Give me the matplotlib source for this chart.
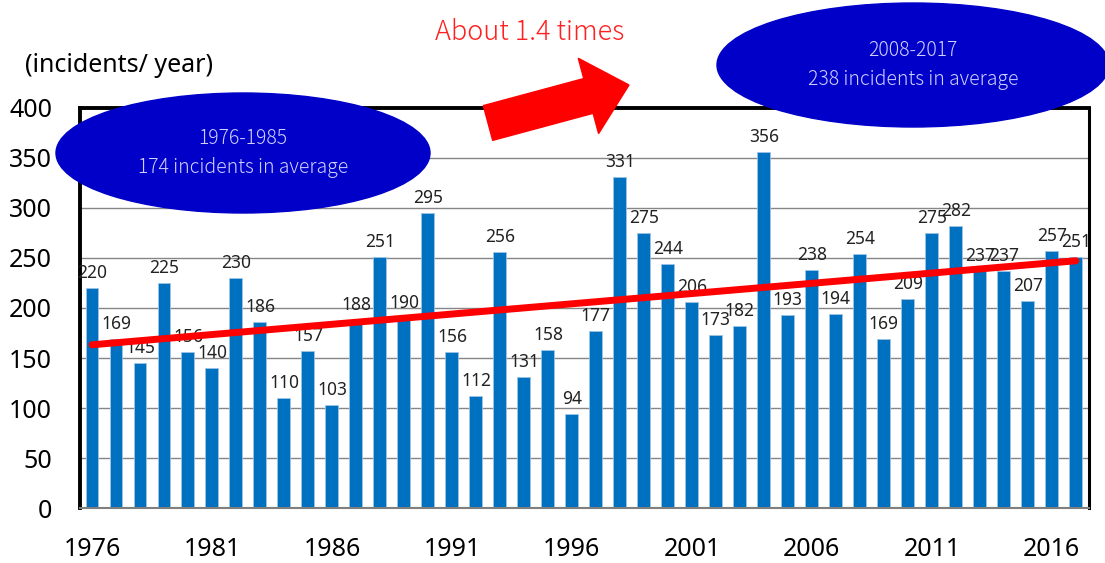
import numpy as np
import matplotlib
matplotlib.use('Agg')
import matplotlib.pyplot as plt
from matplotlib.patches import Ellipse, FancyArrow
from matplotlib.transforms import IdentityTransform

# incidents per year, 1976-2017
years = list(range(1976, 2018))
incidents = [220, 169, 145, 225, 156, 140, 230, 186, 110, 157,
             103, 188, 251, 190, 295, 156, 112, 256, 131, 158,
             94, 177, 331, 275, 244, 206, 173, 182, 356, 193,
             238, 194, 254, 169, 209, 275, 282, 237, 237, 207,
             257, 251]
tick_years = [1976, 1981, 1986, 1991, 1996, 2001, 2006, 2011, 2016]
early_text = "1976-1985\n174 incidents in average"
late_text = "2008-2017\n238 incidents in average"

W, H = 1105, 563
fig = plt.figure(figsize=(W / 100, H / 100), dpi=100)
ax = fig.add_axes([80 / W, (H - 508) / H, (1089 - 80) / W, (508 - 108) / H])

x = np.arange(len(years))
ax.bar(x, incidents, width=0.54, color='#0070C0', edgecolor='#9DC3E6',
       linewidth=0.6, zorder=2)

# value labels above bars
for xi, v in zip(x, incidents):
    ax.annotate(str(v), (xi, v), xytext=(0, 4), textcoords='offset points',
                ha='center', va='bottom', fontsize=12.5, family='Noto Sans',
                color='#222222', zorder=3)

# linear trend
coef = np.polyfit(x, incidents, 1)
ax.plot([x[0], x[-1]], np.polyval(coef, [x[0], x[-1]]), color='#FF0000',
        lw=5, solid_capstyle='round', zorder=4)

ax.set_xlim(-0.5, len(years) - 0.45)
ax.set_ylim(0, 400)
ax.set_yticks(range(0, 401, 50))
ax.yaxis.grid(True, color='#868686', lw=1)
ax.set_axisbelow(True)
ax.set_xticks([years.index(y) for y in tick_years])
ax.set_xticklabels([str(y) for y in tick_years])
ax.tick_params(axis='both', length=0, labelsize=18)
ax.tick_params(axis='y', pad=20)
ax.tick_params(axis='x', pad=21)
for lab in ax.get_xticklabels() + ax.get_yticklabels():
    lab.set_family('Noto Sans')

for side in ['left', 'top']:
    ax.spines[side].set_linewidth(2.8)
    ax.spines[side].set_color('black')
ax.spines['right'].set_linewidth(2.2)
ax.spines['bottom'].set_color('#7f7f7f')
ax.spines['bottom'].set_linewidth(1.5)

fig.text(25 / W, 1 - 66 / H, '(incidents/ year)', fontsize=18,
         family='Noto Sans', ha='left', va='center')

# average bubbles
for (cx, cy, w, h), txt in [((243, 153, 374, 120), early_text),
                            ((913, 65, 392, 124), late_text)]:
    e = Ellipse((cx, H - cy), w, h, transform=IdentityTransform(),
                facecolor='#0000C8', edgecolor='#0000C8', zorder=5)
    fig.add_artist(e)
    fig.text(cx / W, 1 - cy / H, txt, ha='center', va='center',
             fontsize=14, color='#D0D0FF', family='Noto Sans CJK JP',
             fontweight='light', linespacing=1.55, zorder=6)

# growth arrow
arr = FancyArrow(488, H - 123, 141, 38, width=36, head_width=78,
                 head_length=42, length_includes_head=True,
                 transform=IdentityTransform(), color='#FF0000', zorder=5)
fig.add_artist(arr)
fig.text(530 / W, 1 - 32 / H, 'About 1.4 times', ha='center', va='center',
         fontsize=19.5, color='#FF2020', family='Noto Sans CJK JP',
         fontweight='light')

fig.savefig('out.png', dpi=100)
